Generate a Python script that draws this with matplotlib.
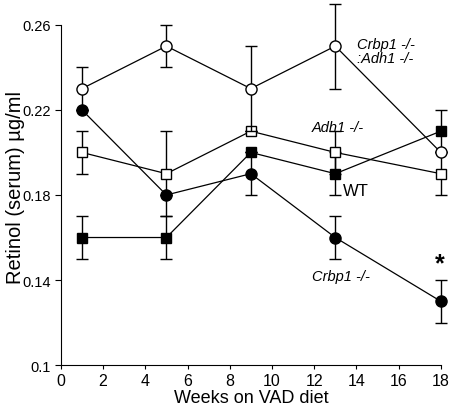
import matplotlib
matplotlib.use('Agg')
import matplotlib.pyplot as plt

plt.rcParams['font.family'] = ['Liberation Sans', 'DejaVu Sans']

weeks = [1, 5, 9, 13, 18]

# Crbp1 -/- : Adh1 -/-  (open circles)
dko = [0.23, 0.25, 0.23, 0.25, 0.20]
dko_err = [0.01, 0.01, 0.02, 0.02, 0.0]

# Crbp1 -/-  (filled circles)
crbp1 = [0.22, 0.18, 0.19, 0.16, 0.13]
crbp1_err = [0.0, 0.0, 0.01, 0.01, 0.01]

# Adh1 -/-  (open squares)
adh1 = [0.20, 0.19, 0.21, 0.20, 0.19]
adh1_err = [0.01, 0.02, 0.0, 0.01, 0.01]

# WT  (filled squares)
wt = [0.16, 0.16, 0.20, 0.19, 0.21]
wt_err = [0.01, 0.01, 0.0, 0.01, 0.01]

fig = plt.figure(figsize=(4.54, 4.10), dpi=100)
ax = fig.add_axes([0.134, 0.107, 0.837, 0.83])

style = dict(color='black', ecolor='black', elinewidth=1.0, capsize=4,
             capthick=1.0, linewidth=0.9, clip_on=False,
             markeredgewidth=1.0, markeredgecolor='black')

ax.errorbar(weeks, wt, yerr=wt_err, marker='s', markersize=7.5,
            markerfacecolor='black', zorder=3, **style)
ax.errorbar(weeks, adh1, yerr=adh1_err, marker='s', markersize=7.5,
            markerfacecolor='white', zorder=4, **style)
ax.errorbar(weeks, crbp1, yerr=crbp1_err, marker='o', markersize=8,
            markerfacecolor='black', zorder=5, **style)
ax.errorbar(weeks, dko, yerr=dko_err, marker='o', markersize=8,
            markerfacecolor='white', zorder=6, **style)

ax.text(14.05, 0.2475, 'Crbp1 -/-\n:Adh1 -/-', fontsize=10.5, style='italic',
        va='center', ha='left', linespacing=1.0)
ax.text(11.9, 0.212, 'Adh1 -/-', fontsize=10.5, style='italic', va='center')
ax.text(13.35, 0.182, 'WT', fontsize=12, va='center')
ax.text(11.9, 0.142, 'Crbp1 -/-', fontsize=10.5, style='italic', va='center')
ax.text(17.95, 0.148, '*', fontsize=18, fontweight='bold', ha='center',
        va='center')

ax.set_xlim(0, 18)
ax.set_ylim(0.1, 0.26)
ax.set_xticks(range(0, 19, 2))
ax.set_yticks([0.1, 0.14, 0.18, 0.22, 0.26])
ax.set_yticklabels(['0.1', '0.14', '0.18', '0.22', '0.26'])
ax.tick_params(axis='y', labelsize=10.5, length=4, width=0.8)
ax.tick_params(axis='x', labelsize=11.5, length=3, width=0.8, pad=2.5)
ax.spines['top'].set_visible(False)
ax.spines['right'].set_visible(False)
ax.set_xlabel('Weeks on VAD diet', fontsize=13, labelpad=1)
ax.set_ylabel('Retinol (serum) µg/ml', fontsize=14.5)
ax.yaxis.set_label_coords(-0.095, 0.525)

plt.savefig('out.png', dpi=100)
